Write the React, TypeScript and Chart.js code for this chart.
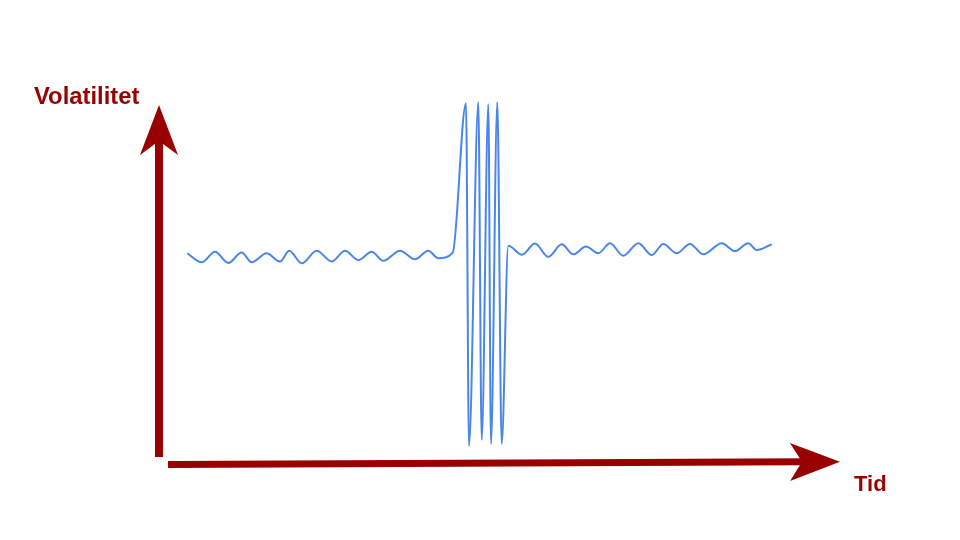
import React, { useEffect, useRef } from "react";
import { Chart, registerables } from "chart.js";

Chart.register(...registerables);

// Time (arbitrary units, 0..100 along the Tid axis)
const timeValues: number[] = [
  4.16, 6.27, 8.22, 10.18, 12.14, 13.61, 15.81, 17.77, 19.13, 20.95, 23.16,
  25.36, 27.31, 29.27, 31.23, 32.94, 35.39, 37.59, 39.54, 41.01, 43.13,
  45.08, 45.52, 46.89, 47.39, 48.36, 48.75, 49.68, 50.32, 51.29,
  53.3, 55.21, 57.17, 59.13, 60.84, 62.7, 64.51, 66.23, 68.18, 70.39, 72.36,
  74.05, 76.02, 77.97, 79.93, 82.63, 84.58, 86.53, 87.77, 89.97,
];

// Volatility (arbitrary units, 0..10 along the Volatilitet axis)
const volatilityValues: number[] = [
  5.87, 5.62, 5.91, 5.6, 5.89, 5.62, 5.87, 5.64, 5.94, 5.59, 5.94,
  5.64, 5.94, 5.68, 5.91, 5.66, 5.94, 5.7, 5.94, 5.73, 5.89,
  10.05, 0.5, 10.08, 0.67, 10.02, 0.56, 10.08, 0.56, 6.08,
  5.83, 6.14, 5.77, 6.12, 5.84, 6.06, 5.87, 6.15, 5.8, 6.15, 5.82,
  6.13, 5.87, 6.13, 5.84, 6.15, 5.93, 6.15, 5.96, 6.12,
];

const axisLabels = { y: "Volatilitet", x: "Tid" };

const AXIS_COLOR = "#990000";
const LINE_COLOR = "#4a86e8";
const FONT_Y = 'bold 23.8px "Liberation Sans", Arial, sans-serif';
const FONT_X = 'bold 22px "Liberation Sans", Arial, sans-serif';

function drawArrow(
  ctx: CanvasRenderingContext2D,
  x1: number,
  y1: number,
  x2: number,
  y2: number,
  shaftW: number,
  headLen: number,
  headHalf: number,
  notch: number
) {
  const dx = x2 - x1;
  const dy = y2 - y1;
  const len = Math.hypot(dx, dy);
  const ux = dx / len;
  const uy = dy / len;
  const px = -uy;
  const py = ux;
  const baseX = x2 - ux * headLen;
  const baseY = y2 - uy * headLen;
  const notchX = x2 - ux * (headLen - notch);
  const notchY = y2 - uy * (headLen - notch);

  ctx.save();
  ctx.strokeStyle = AXIS_COLOR;
  ctx.fillStyle = AXIS_COLOR;
  ctx.lineWidth = shaftW;
  ctx.lineCap = "butt";
  ctx.beginPath();
  ctx.moveTo(x1, y1);
  ctx.lineTo(notchX + ux * 2, notchY + uy * 2);
  ctx.stroke();

  ctx.beginPath();
  ctx.moveTo(x2, y2);
  ctx.lineTo(baseX + px * headHalf, baseY + py * headHalf);
  ctx.lineTo(notchX, notchY);
  ctx.lineTo(baseX - px * headHalf, baseY - py * headHalf);
  ctx.closePath();
  ctx.fill();
  ctx.restore();
}

const arrowAxesPlugin = {
  id: "arrowAxes",
  beforeDatasetsDraw(chart: any) {
    const { ctx, chartArea: ca } = chart;
    // vertical (Volatilitet) axis
    drawArrow(ctx, ca.left, ca.bottom - 7, ca.left, ca.top, 8, 50, 19, 14);
    // horizontal (Tid) axis
    drawArrow(ctx, ca.left + 9, ca.bottom + 0.5, ca.right, ca.bottom - 2.3, 7, 50, 19, 12);

    ctx.save();
    ctx.fillStyle = AXIS_COLOR;
    ctx.textAlign = "left";
    ctx.textBaseline = "alphabetic";
    ctx.font = FONT_Y;
    ctx.fillText(axisLabels.y, ca.left - 125, ca.top - 1);
    ctx.font = FONT_X;
    ctx.fillText(axisLabels.x, ca.right + 14, ca.bottom + 27);
    ctx.restore();
  },
};

export default function App() {
  const canvasRef = useRef<HTMLCanvasElement | null>(null);

  useEffect(() => {
    if (!canvasRef.current) return;
    const points = timeValues.map((t, i) => ({ x: t, y: volatilityValues[i] }));
    const chart = new Chart(canvasRef.current, {
      type: "line",
      data: {
        datasets: [
          {
            data: points,
            borderColor: LINE_COLOR,
            borderWidth: 2,
            pointRadius: 0,
            fill: false,
            cubicInterpolationMode: "monotone",
            clip: false as any,
          } as any,
        ],
      },
      options: {
        responsive: false,
        animation: false,
        events: [],
        layout: { padding: { left: 159, right: 120, top: 105, bottom: 76 } },
        plugins: {
          legend: { display: false },
          tooltip: { enabled: false },
          title: { display: false },
        },
        scales: {
          x: { type: "linear", min: 0, max: 100, display: false },
          y: { type: "linear", min: 0, max: 10, display: false },
        },
      },
      plugins: [arrowAxesPlugin],
    });
    return () => chart.destroy();
  }, []);

  return (
    <div style={{ position: "absolute", left: 0, top: 0, width: 960, height: 540, background: "#ffffff" }}>
      <canvas ref={canvasRef} width={960} height={540} style={{ display: "block" }} />
    </div>
  );
}
